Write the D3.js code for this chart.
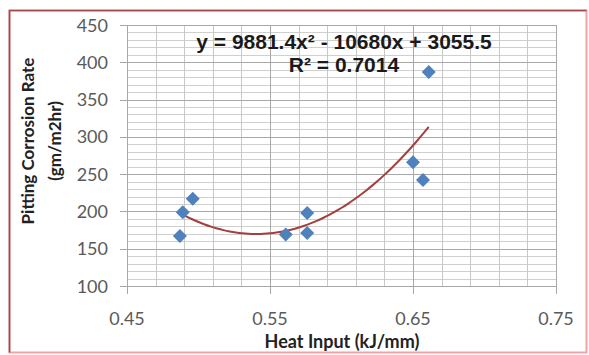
<!DOCTYPE html>
<html lang="en">
<head>
    <meta charset="UTF-8">
    <title>Pitting Corrosion Rate vs Heat Input</title>
    <script src="https://d3js.org/d3.v7.min.js"></script>
    <style>
        body { margin: 0; background: #fff; }
        svg { display: block; }
    </style>
</head>
<body>
    <script>
        const width = 589;
        const height = 355;

        // data
        const heatInput = [0.487, 0.489, 0.496, 0.561, 0.576, 0.576, 0.650, 0.657, 0.661];
        const corrosionRate = [167, 199, 217, 169, 198, 171, 266, 242, 387];

        // polynomial trendline coefficients (a x^2 + b x + c), as printed on the chart
        const trendCoef = [9881.4, -10680, 3055.5];
        const trendLabel = ["y = 9881.4x\u00b2 - 10680x + 3055.5", "R\u00b2 = 0.7014"];

        const xTicks = [0.45, 0.55, 0.65, 0.75];
        const yTicks = [100, 150, 200, 250, 300, 350, 400, 450];

        const x = d3.scaleLinear().domain([0.45, 0.75]).range([127, 556]);
        const y = d3.scaleLinear().domain([100, 450]).range([286, 25]);

        const svg = d3.select("body").append("svg")
            .attr("width", width)
            .attr("height", height);

        // chart border
        svg.append("rect")
            .attr("x", 9.5).attr("y", 10.5)
            .attr("width", 577).attr("height", 342)
            .attr("fill", "#fff")
            .attr("stroke", "#e8a6a6")
            .attr("stroke-width", 2);
        svg.append("path")
            .attr("d", "M9.5,352.5V10.5H586.5")
            .attr("fill", "none")
            .attr("stroke", "#a4484a")
            .attr("stroke-width", 1.6);

        const grid = svg.append("g");

        // minor gridlines
        grid.selectAll(".hminor")
            .data(d3.range(100, 451, 10))
            .enter().append("line")
            .attr("x1", x(0.45)).attr("x2", x(0.75))
            .attr("y1", d => Math.round(y(d)) + 0.5)
            .attr("y2", d => Math.round(y(d)) + 0.5)
            .attr("stroke", "#cfcfcf");
        grid.selectAll(".vminor")
            .data(d3.range(0, 16).map(i => 0.45 + i * 0.02))
            .enter().append("line")
            .attr("y1", y(100)).attr("y2", y(450))
            .attr("x1", d => Math.round(x(d)) + 0.5)
            .attr("x2", d => Math.round(x(d)) + 0.5)
            .attr("stroke", "#c8c8c8");

        // major gridlines with tick marks
        grid.selectAll(".hmajor")
            .data(yTicks)
            .enter().append("line")
            .attr("x1", x(0.45) - 7).attr("x2", x(0.75))
            .attr("y1", d => Math.round(y(d)) + 0.5)
            .attr("y2", d => Math.round(y(d)) + 0.5)
            .attr("stroke", "#a8a8a8");
        grid.selectAll(".vmajor")
            .data(xTicks)
            .enter().append("line")
            .attr("y1", y(100) + 8).attr("y2", y(450))
            .attr("x1", d => Math.round(x(d)) + 0.5)
            .attr("x2", d => Math.round(x(d)) + 0.5)
            .attr("stroke", "#a8a8a8");

        // tick labels
        svg.append("g").selectAll("text")
            .data(yTicks)
            .enter().append("text")
            .attr("x", 108)
            .attr("y", d => y(d) + 6.5)
            .attr("text-anchor", "end")
            .attr("fill", "#5a5a5a")
            .style("font", "18px Lato, sans-serif")
            .text(d => d);
        svg.append("g").selectAll("text")
            .data(xTicks)
            .enter().append("text")
            .attr("x", d => x(d))
            .attr("y", 325)
            .attr("text-anchor", "middle")
            .attr("fill", "#5a5a5a")
            .style("font", "18px Lato, sans-serif")
            .text(d3.format(".2f"));

        // axis titles
        svg.append("text")
            .attr("x", 342).attr("y", 348)
            .attr("text-anchor", "middle")
            .attr("fill", "#222")
            .style("font", "bold 18px Lato, sans-serif")
            .text("Heat Input (kJ/mm)");
        const yTitle = svg.append("text")
            .attr("transform", "translate(0,141) rotate(-90)")
            .attr("text-anchor", "middle")
            .attr("fill", "#222")
            .style("font", "bold 17px Lato, sans-serif");
        yTitle.append("tspan").attr("x", 0).attr("y", 34).text("Pitting Corrosion Rate");
        yTitle.append("tspan").attr("x", 0).attr("y", 61).text("(gm/m2hr)");

        // trendline
        const trend = v => trendCoef[0] * v * v + trendCoef[1] * v + trendCoef[2];
        const xMin = d3.min(heatInput), xMax = d3.max(heatInput);
        const curve = d3.range(0, 41).map(i => xMin + (xMax - xMin) * i / 40);
        svg.append("path")
            .datum(curve)
            .attr("fill", "none")
            .attr("stroke", "#a3403e")
            .attr("stroke-width", 2)
            .attr("d", d3.line().x(d => x(d)).y(d => y(trend(d))).curve(d3.curveMonotoneX));

        // markers
        svg.append("g").selectAll("path")
            .data(heatInput.map((h, i) => [h, corrosionRate[i]]))
            .enter().append("path")
            .attr("transform", d => `translate(${x(d[0])},${y(d[1])})`)
            .attr("d", "M0,-7L7,0L0,7L-7,0Z")
            .attr("fill", "#4f81bd");

        // equation label
        svg.append("g").selectAll("text")
            .data(trendLabel)
            .enter().append("text")
            .attr("x", 344)
            .attr("y", (d, i) => 49 + i * 23)
            .attr("text-anchor", "middle")
            .attr("fill", "#1a1a1a")
            .style("font", "bold 21px 'Liberation Sans', Arial, sans-serif")
            .text(d => d);
    </script>
</body>
</html>
